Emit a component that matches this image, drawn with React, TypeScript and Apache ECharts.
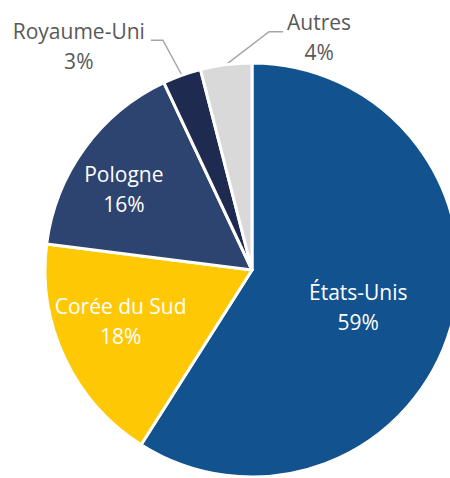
import React, { useEffect, useRef } from "react";
import * as echarts from "echarts";

const categories = ["États-Unis", "Corée du Sud", "Pologne", "Royaume-Uni", "Autres"];
const values = [59, 18, 16, 3, 4];
const colors = ["#11528F", "#FFC805", "#2E4470", "#1F2A50", "#D9D9D9"];
const outsideIdx = [3, 4];

// label offsets (layout only)
const insideOffsets: [number, number][] = [
  [4, 7],
  [-35, 6],
  [-42, -18],
];

export default function App() {
  const ref = useRef<HTMLDivElement>(null);
  useEffect(() => {
    if (!ref.current) return;
    const chart = echarts.init(ref.current, null, { renderer: "svg" });
    const data = categories.map((name, i) => {
      const outside = outsideIdx.includes(i);
      return {
        name,
        value: values[i],
        itemStyle: { color: colors[i] },
        label: outside
          ? { position: "outside", color: "#595959" }
          : { position: "inside", color: "#ffffff" },
        labelLine: { show: outside },
      };
    });
    chart.setOption({
      animation: false,
      series: [
        {
          type: "pie",
          center: [252, 270],
          radius: [0, 207],
          startAngle: 90,
          clockwise: true,
          percentPrecision: 0,
          avoidLabelOverlap: false,
          itemStyle: { borderColor: "#ffffff", borderWidth: 3 },
          label: {
            formatter: "{b}\n{d}%",
            fontFamily: "Open Sans",
            fontSize: 21,
            lineHeight: 30,
            align: "center",
          },
          labelLine: {
            length: 30,
            length2: 12,
            lineStyle: { color: "#A6A6A6", width: 1.5 },
          },
          labelLayout: (params: any) => {
            const i = params.dataIndex;
            if (i < 3) {
              return { dx: insideOffsets[i][0], dy: insideOffsets[i][1] };
            }
            const pts = params.labelLinePoints;
            if (!pts) return {};
            const p0 = pts[0];
            const w = params.labelRect.width;
            if (i === 3) {
              const p1 = [p0[0] - 19, p0[1] - 35];
              const p2 = [p1[0] - 12, p1[1]];
              return {
                x: p2[0] - 6 - w / 2,
                y: p2[1] + 6,
                align: "center",
                verticalAlign: "middle",
                labelLinePoints: [p0, p1, p2],
              };
            }
            const p1 = [p0[0] + 43, p0[1] - 33];
            const p2 = [p1[0] + 14, p1[1]];
            return {
              x: p2[0] + 4 + w / 2,
              y: p2[1] + 5,
              align: "center",
              verticalAlign: "middle",
              labelLinePoints: [p0, p1, p2],
            };
          },
          data,
        },
      ],
    });
    return () => chart.dispose();
  }, []);
  return (
    <div
      ref={ref}
      style={{ position: "fixed", left: 0, top: 0, width: 450, height: 478, background: "#fff" }}
    />
  );
}
